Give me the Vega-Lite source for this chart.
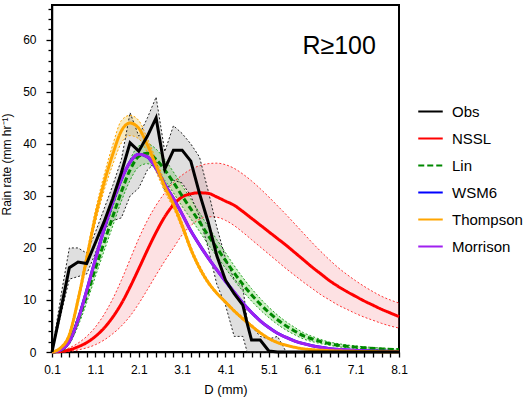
{
  "$schema": "https://vega.github.io/schema/vega-lite/v6.json",
  "autosize": "none",
  "width": 347,
  "height": 347,
  "padding": {"left": 52, "top": 5, "right": 133, "bottom": 45},
  "background": "white",
  "config": {
    "font": "Liberation Sans",
    "view": {"stroke": "#000", "strokeWidth": 2},
    "axis": {"grid": false, "domainColor": "#000", "domainWidth": 1.5, "tickColor": "#000", "tickWidth": 1.3, "labelColor": "#000", "titleColor": "#000", "labelFont": "Liberation Sans", "titleFont": "Liberation Sans", "titleFontWeight": "normal"},
    "legend": {"orient": "none", "legendX": 365, "legendY": 93, "symbolType": "stroke", "symbolSize": 600, "symbolStrokeWidth": 2, "labelFontSize": 15, "labelFont": "Liberation Sans", "labelColor": "#000", "labelOffset": 8, "rowPadding": 5, "padding": 0}
  },
  "datasets": {
    "obs": [
      {"m":"Obs","D":0.1,"R":0,"lo":0,"hi":0},
      {"m":"Obs","D":0.3,"R":8,"lo":7,"hi":10.5},
      {"m":"Obs","D":0.5,"R":16.2,"lo":14,"hi":20},
      {"m":"Obs","D":0.7,"R":17.3,"lo":14.5,"hi":20},
      {"m":"Obs","D":0.9,"R":17,"lo":15,"hi":19},
      {"m":"Obs","D":1.1,"R":21,"lo":19,"hi":23},
      {"m":"Obs","D":1.3,"R":25,"lo":23.5,"hi":27.5},
      {"m":"Obs","D":1.5,"R":29.5,"lo":25.2,"hi":32},
      {"m":"Obs","D":1.7,"R":34.5,"lo":25.8,"hi":37},
      {"m":"Obs","D":1.9,"R":40.2,"lo":30,"hi":46},
      {"m":"Obs","D":2.1,"R":38.6,"lo":31.5,"hi":41.5},
      {"m":"Obs","D":2.3,"R":41.5,"lo":35,"hi":45},
      {"m":"Obs","D":2.5,"R":45,"lo":36.5,"hi":49},
      {"m":"Obs","D":2.7,"R":35.2,"lo":31,"hi":38.5},
      {"m":"Obs","D":2.9,"R":38.8,"lo":33,"hi":43.5},
      {"m":"Obs","D":3.1,"R":38.8,"lo":32.5,"hi":42},
      {"m":"Obs","D":3.3,"R":36.7,"lo":30,"hi":40},
      {"m":"Obs","D":3.5,"R":30.5,"lo":26,"hi":37.5},
      {"m":"Obs","D":3.7,"R":25,"lo":20,"hi":31},
      {"m":"Obs","D":3.9,"R":18.5,"lo":13,"hi":24},
      {"m":"Obs","D":4.1,"R":13.8,"lo":9,"hi":18},
      {"m":"Obs","D":4.3,"R":11.2,"lo":3,"hi":14},
      {"m":"Obs","D":4.5,"R":9,"lo":3,"hi":12.5},
      {"m":"Obs","D":4.6,"R":5.5,"lo":0,"hi":6},
      {"m":"Obs","D":4.7,"R":2.3,"lo":0,"hi":5},
      {"m":"Obs","D":4.9,"R":2.3,"lo":0,"hi":3},
      {"m":"Obs","D":5.1,"R":0.2,"lo":0,"hi":2.5},
      {"m":"Obs","D":5.3,"R":0,"lo":0,"hi":3},
      {"m":"Obs","D":5.5,"R":0,"lo":0,"hi":0},
      {"m":"Obs","D":6.1,"R":0,"lo":0,"hi":0},
      {"m":"Obs","D":7.1,"R":0,"lo":0,"hi":0},
      {"m":"Obs","D":8.1,"R":0,"lo":0,"hi":0}
    ],
    "mod": [
      {"m":"NSSL","D":0.1,"R":0,"lo":0,"hi":0},
      {"m":"NSSL","D":0.3,"R":0.1,"lo":0,"hi":0.2},
      {"m":"NSSL","D":0.5,"R":0.4,"lo":0.1,"hi":0.8},
      {"m":"NSSL","D":0.7,"R":1,"lo":0.4,"hi":1.7},
      {"m":"NSSL","D":0.9,"R":1.8,"lo":0.8,"hi":3},
      {"m":"NSSL","D":1.1,"R":3,"lo":1.4,"hi":4.8},
      {"m":"NSSL","D":1.3,"R":4.6,"lo":2.3,"hi":7.2},
      {"m":"NSSL","D":1.5,"R":6.7,"lo":3.5,"hi":10.2},
      {"m":"NSSL","D":1.7,"R":9.3,"lo":5,"hi":13.8},
      {"m":"NSSL","D":1.9,"R":12.5,"lo":6.9,"hi":17.8},
      {"m":"NSSL","D":2.1,"R":16,"lo":9.3,"hi":21.8},
      {"m":"NSSL","D":2.3,"R":19.6,"lo":12,"hi":25.3},
      {"m":"NSSL","D":2.5,"R":23,"lo":14.8,"hi":28.2},
      {"m":"NSSL","D":2.7,"R":26,"lo":17.5,"hi":30.6},
      {"m":"NSSL","D":2.9,"R":28.3,"lo":20,"hi":32.6},
      {"m":"NSSL","D":3.1,"R":29.8,"lo":22.5,"hi":34},
      {"m":"NSSL","D":3.3,"R":30.4,"lo":24.3,"hi":35.1},
      {"m":"NSSL","D":3.5,"R":30.6,"lo":25.5,"hi":35.8},
      {"m":"NSSL","D":3.7,"R":30.5,"lo":26,"hi":36.2},
      {"m":"NSSL","D":3.9,"R":29.8,"lo":25.9,"hi":36.3},
      {"m":"NSSL","D":4.1,"R":29,"lo":25.3,"hi":36},
      {"m":"NSSL","D":4.3,"R":28.2,"lo":24.3,"hi":35.3},
      {"m":"NSSL","D":4.5,"R":27,"lo":23,"hi":34.2},
      {"m":"NSSL","D":4.7,"R":25.7,"lo":21.6,"hi":32.9},
      {"m":"NSSL","D":4.9,"R":24.4,"lo":20.2,"hi":31.4},
      {"m":"NSSL","D":5.1,"R":23.1,"lo":18.8,"hi":29.8},
      {"m":"NSSL","D":5.3,"R":21.8,"lo":17.4,"hi":28.1},
      {"m":"NSSL","D":5.5,"R":20.5,"lo":16,"hi":26.4},
      {"m":"NSSL","D":5.7,"R":19.1,"lo":14.7,"hi":24.6},
      {"m":"NSSL","D":5.9,"R":17.7,"lo":13.4,"hi":22.8},
      {"m":"NSSL","D":6.1,"R":16.3,"lo":12.2,"hi":21},
      {"m":"NSSL","D":6.3,"R":15,"lo":11,"hi":19.3},
      {"m":"NSSL","D":6.5,"R":13.7,"lo":10,"hi":17.7},
      {"m":"NSSL","D":6.7,"R":12.6,"lo":9,"hi":16.2},
      {"m":"NSSL","D":6.9,"R":11.6,"lo":8.2,"hi":14.9},
      {"m":"NSSL","D":7.1,"R":10.7,"lo":7.4,"hi":13.7},
      {"m":"NSSL","D":7.3,"R":9.8,"lo":6.7,"hi":12.6},
      {"m":"NSSL","D":7.5,"R":9,"lo":6.1,"hi":11.6},
      {"m":"NSSL","D":7.7,"R":8.2,"lo":5.5,"hi":10.7},
      {"m":"NSSL","D":7.9,"R":7.5,"lo":5,"hi":10},
      {"m":"NSSL","D":8.1,"R":6.8,"lo":4.6,"hi":9.4},

      {"m":"Lin","D":0.1,"R":0,"lo":0,"hi":0},
      {"m":"Lin","D":0.3,"R":0.3,"lo":0.2,"hi":0.5},
      {"m":"Lin","D":0.5,"R":2,"lo":1.5,"hi":2.6},
      {"m":"Lin","D":0.7,"R":6,"lo":5,"hi":7},
      {"m":"Lin","D":0.9,"R":10.8,"lo":9.5,"hi":12},
      {"m":"Lin","D":1.1,"R":16,"lo":14.5,"hi":17.5},
      {"m":"Lin","D":1.3,"R":21,"lo":19.4,"hi":22.8},
      {"m":"Lin","D":1.5,"R":26,"lo":24.2,"hi":27.8},
      {"m":"Lin","D":1.7,"R":30.8,"lo":29,"hi":32.7},
      {"m":"Lin","D":1.9,"R":35,"lo":33,"hi":37},
      {"m":"Lin","D":2.1,"R":37.6,"lo":35.6,"hi":39.6},
      {"m":"Lin","D":2.3,"R":38.2,"lo":36.2,"hi":40},
      {"m":"Lin","D":2.5,"R":37,"lo":35,"hi":39},
      {"m":"Lin","D":2.7,"R":35,"lo":33,"hi":37},
      {"m":"Lin","D":2.9,"R":32.6,"lo":30.6,"hi":34.6},
      {"m":"Lin","D":3.1,"R":30,"lo":28,"hi":32},
      {"m":"Lin","D":3.3,"R":27.5,"lo":25.6,"hi":29.4},
      {"m":"Lin","D":3.5,"R":25,"lo":23.2,"hi":26.8},
      {"m":"Lin","D":3.7,"R":22.4,"lo":20.7,"hi":24.1},
      {"m":"Lin","D":3.9,"R":20,"lo":18.4,"hi":21.6},
      {"m":"Lin","D":4.1,"R":17.6,"lo":16.1,"hi":19.1},
      {"m":"Lin","D":4.3,"R":15.2,"lo":13.8,"hi":16.6},
      {"m":"Lin","D":4.5,"R":13,"lo":11.7,"hi":14.3},
      {"m":"Lin","D":4.7,"R":11,"lo":9.8,"hi":12.2},
      {"m":"Lin","D":4.9,"R":9.2,"lo":8.1,"hi":10.3},
      {"m":"Lin","D":5.1,"R":7.6,"lo":6.6,"hi":8.6},
      {"m":"Lin","D":5.3,"R":6.2,"lo":5.3,"hi":7.1},
      {"m":"Lin","D":5.5,"R":5,"lo":4.2,"hi":5.8},
      {"m":"Lin","D":5.7,"R":4,"lo":3.3,"hi":4.7},
      {"m":"Lin","D":5.9,"R":3.1,"lo":2.5,"hi":3.7},
      {"m":"Lin","D":6.1,"R":2.5,"lo":2,"hi":3},
      {"m":"Lin","D":6.3,"R":2,"lo":1.6,"hi":2.4},
      {"m":"Lin","D":6.5,"R":1.6,"lo":1.3,"hi":1.9},
      {"m":"Lin","D":6.7,"R":1.3,"lo":1,"hi":1.6},
      {"m":"Lin","D":6.9,"R":1.1,"lo":0.85,"hi":1.35},
      {"m":"Lin","D":7.3,"R":0.8,"lo":0.6,"hi":1},
      {"m":"Lin","D":7.7,"R":0.6,"lo":0.45,"hi":0.75},
      {"m":"Lin","D":8.1,"R":0.45,"lo":0.35,"hi":0.6},

      {"m":"WSM6","D":0.1,"R":0},
      {"m":"WSM6","D":0.3,"R":0.4},
      {"m":"WSM6","D":0.5,"R":2},
      {"m":"WSM6","D":0.7,"R":6.2},
      {"m":"WSM6","D":0.9,"R":11.8},
      {"m":"WSM6","D":1.1,"R":17.8},
      {"m":"WSM6","D":1.3,"R":23.6},
      {"m":"WSM6","D":1.5,"R":28.8},
      {"m":"WSM6","D":1.7,"R":33.2},
      {"m":"WSM6","D":1.9,"R":36.5},
      {"m":"WSM6","D":2.1,"R":38},
      {"m":"WSM6","D":2.3,"R":37.5},
      {"m":"WSM6","D":2.5,"R":35.3},
      {"m":"WSM6","D":2.7,"R":32.2},
      {"m":"WSM6","D":2.9,"R":29.5},
      {"m":"WSM6","D":3.1,"R":26.5},
      {"m":"WSM6","D":3.3,"R":23.3},
      {"m":"WSM6","D":3.5,"R":20.6},
      {"m":"WSM6","D":3.7,"R":18.1},
      {"m":"WSM6","D":3.9,"R":15.8},
      {"m":"WSM6","D":4.1,"R":13.6},
      {"m":"WSM6","D":4.3,"R":11.5},
      {"m":"WSM6","D":4.5,"R":9.4},
      {"m":"WSM6","D":4.7,"R":7.6},
      {"m":"WSM6","D":4.9,"R":6},
      {"m":"WSM6","D":5.1,"R":4.7},
      {"m":"WSM6","D":5.3,"R":3.6},
      {"m":"WSM6","D":5.5,"R":2.8},
      {"m":"WSM6","D":5.7,"R":2.1},
      {"m":"WSM6","D":5.9,"R":1.6},
      {"m":"WSM6","D":6.1,"R":1.2},
      {"m":"WSM6","D":6.3,"R":0.9},
      {"m":"WSM6","D":6.5,"R":0.65},
      {"m":"WSM6","D":6.9,"R":0.4},
      {"m":"WSM6","D":7.3,"R":0.25},
      {"m":"WSM6","D":7.7,"R":0.15},
      {"m":"WSM6","D":8.1,"R":0.1},

      {"m":"Morrison","D":0.1,"R":0},
      {"m":"Morrison","D":0.3,"R":0.4},
      {"m":"Morrison","D":0.5,"R":2},
      {"m":"Morrison","D":0.7,"R":6.2},
      {"m":"Morrison","D":0.9,"R":11.8},
      {"m":"Morrison","D":1.1,"R":17.8},
      {"m":"Morrison","D":1.3,"R":23.6},
      {"m":"Morrison","D":1.5,"R":28.8},
      {"m":"Morrison","D":1.7,"R":33.2},
      {"m":"Morrison","D":1.9,"R":36.5},
      {"m":"Morrison","D":2.1,"R":38},
      {"m":"Morrison","D":2.3,"R":37.5},
      {"m":"Morrison","D":2.5,"R":35.3},
      {"m":"Morrison","D":2.7,"R":32.2},
      {"m":"Morrison","D":2.9,"R":29.5},
      {"m":"Morrison","D":3.1,"R":26.5},
      {"m":"Morrison","D":3.3,"R":23.3},
      {"m":"Morrison","D":3.5,"R":20.6},
      {"m":"Morrison","D":3.7,"R":18.1},
      {"m":"Morrison","D":3.9,"R":15.8},
      {"m":"Morrison","D":4.1,"R":13.6},
      {"m":"Morrison","D":4.3,"R":11.5},
      {"m":"Morrison","D":4.5,"R":9.4},
      {"m":"Morrison","D":4.7,"R":7.6},
      {"m":"Morrison","D":4.9,"R":6},
      {"m":"Morrison","D":5.1,"R":4.7},
      {"m":"Morrison","D":5.3,"R":3.6},
      {"m":"Morrison","D":5.5,"R":2.8},
      {"m":"Morrison","D":5.7,"R":2.1},
      {"m":"Morrison","D":5.9,"R":1.6},
      {"m":"Morrison","D":6.1,"R":1.2},
      {"m":"Morrison","D":6.3,"R":0.9},
      {"m":"Morrison","D":6.5,"R":0.65},
      {"m":"Morrison","D":6.9,"R":0.4},
      {"m":"Morrison","D":7.3,"R":0.25},
      {"m":"Morrison","D":7.7,"R":0.15},
      {"m":"Morrison","D":8.1,"R":0.1},

      {"m":"Thompson","D":0.1,"R":0,"lo":0,"hi":0},
      {"m":"Thompson","D":0.3,"R":0.8,"lo":0.6,"hi":1},
      {"m":"Thompson","D":0.5,"R":3.3,"lo":2.9,"hi":3.8},
      {"m":"Thompson","D":0.7,"R":10,"lo":9.2,"hi":10.8},
      {"m":"Thompson","D":0.9,"R":18,"lo":17,"hi":19},
      {"m":"Thompson","D":1.1,"R":26,"lo":24.8,"hi":27.2},
      {"m":"Thompson","D":1.3,"R":32.5,"lo":31,"hi":34},
      {"m":"Thompson","D":1.5,"R":38,"lo":36,"hi":39.8},
      {"m":"Thompson","D":1.7,"R":42.5,"lo":40.2,"hi":44.5},
      {"m":"Thompson","D":1.9,"R":44,"lo":41.6,"hi":45.5},
      {"m":"Thompson","D":2.1,"R":43,"lo":41,"hi":44.5},
      {"m":"Thompson","D":2.3,"R":39.8,"lo":38.3,"hi":41},
      {"m":"Thompson","D":2.5,"R":35.8,"lo":34.6,"hi":37},
      {"m":"Thompson","D":2.7,"R":31.8,"lo":30.8,"hi":32.8},
      {"m":"Thompson","D":2.9,"R":28.4,"lo":27.6,"hi":29.2},
      {"m":"Thompson","D":3.1,"R":24.3,"lo":23.6,"hi":25},
      {"m":"Thompson","D":3.3,"R":19.8,"lo":19.2,"hi":20.4},
      {"m":"Thompson","D":3.5,"R":16.2,"lo":15.7,"hi":16.7},
      {"m":"Thompson","D":3.7,"R":13.4,"lo":13,"hi":13.8},
      {"m":"Thompson","D":3.9,"R":11.3,"lo":11,"hi":11.6},
      {"m":"Thompson","D":4.1,"R":9.6,"lo":9.3,"hi":9.9},
      {"m":"Thompson","D":4.3,"R":7.9,"lo":7.6,"hi":8.2},
      {"m":"Thompson","D":4.5,"R":6.4,"lo":6.1,"hi":6.7},
      {"m":"Thompson","D":4.7,"R":5,"lo":4.8,"hi":5.3},
      {"m":"Thompson","D":4.9,"R":3.7,"lo":3.5,"hi":3.9},
      {"m":"Thompson","D":5.1,"R":2.6,"lo":2.4,"hi":2.8},
      {"m":"Thompson","D":5.3,"R":1.8,"lo":1.7,"hi":2},
      {"m":"Thompson","D":5.5,"R":1.3,"lo":1.2,"hi":1.4},
      {"m":"Thompson","D":5.7,"R":0.9,"lo":0.8,"hi":1},
      {"m":"Thompson","D":5.9,"R":0.6,"lo":0.55,"hi":0.7},
      {"m":"Thompson","D":6.1,"R":0.45,"lo":0.4,"hi":0.5},
      {"m":"Thompson","D":6.5,"R":0.25,"lo":0.2,"hi":0.3},
      {"m":"Thompson","D":6.9,"R":0.15,"lo":0.1,"hi":0.2},
      {"m":"Thompson","D":7.5,"R":0.08,"lo":0.05,"hi":0.1},
      {"m":"Thompson","D":8.1,"R":0.04,"lo":0.02,"hi":0.06}
    ],
    "lab": [{"D": 6.72, "R": 57.3, "t": "R≥100"}]
  },
  "encoding": {
    "x": {"field": "D", "type": "quantitative",
      "scale": {"domain": [0.1, 8.1], "nice": false, "zero": false},
      "axis": {
        "values": [0.1,0.3,0.5,0.7,0.9,1.1,1.3,1.5,1.7,1.9,2.1,2.3,2.5,2.7,2.9,3.1,3.3,3.5,3.7,3.9,4.1,4.3,4.5,4.7,4.9,5.1,5.3,5.5,5.7,5.9,6.1,6.3,6.5,6.7,6.9,7.1,7.3,7.5,7.7,7.9,8.1],
        "labelExpr": "round(datum.value*10)%10==1 ? format(datum.value, '.1f') : ''",
        "tickSize": 5, "labelPadding": 7, "labelFontSize": 12, "labelOverlap": false, "labelFlush": false,
        "title": "D (mm)", "titleFontSize": 13, "titlePadding": 8
      }
    }
  },
  "layer": [
    {
      "data": {"name": "mod"},
      "transform": [{"filter": "isValid(datum.lo)"}],
      "mark": {"type": "area", "interpolate": "monotone", "fillOpacity": 0.25},
      "encoding": {
        "y": {"field": "lo", "type": "quantitative",
          "scale": {"domain": [0, 66.7], "nice": false, "zero": false},
          "axis": {
            "values": [0,2,4,6,8,10,12,14,16,18,20,22,24,26,28,30,32,34,36,38,40,42,44,46,48,50,52,54,56,58,60,62,64,66],
            "labelExpr": "datum.value % 10 == 0 ? datum.label : ''",
            "tickSize": {"condition": {"test": "datum.value % 10 == 0", "value": 6}, "value": 4},
            "labelPadding": 10, "labelFontSize": 12, "labelOverlap": false,
            "title": "Rain rate (mm hr⁻¹)", "titleFontSize": 12, "titleY": 159, "titlePadding": 9
          }
        },
        "y2": {"field": "hi"},
        "fill": {"field": "m", "type": "nominal",
          "scale": {"domain": ["Obs", "NSSL", "Lin", "Thompson"], "range": ["#808080", "#f7878f", "#37c317", "#e3ab00"]},
          "legend": null}
      }
    },
    {
      "data": {"name": "obs"},
      "mark": {"type": "area", "interpolate": "linear", "fillOpacity": 0.25},
      "encoding": {
        "y": {"field": "lo", "type": "quantitative",
          "axis": {
            "values": [0,2,4,6,8,10,12,14,16,18,20,22,24,26,28,30,32,34,36,38,40,42,44,46,48,50,52,54,56,58,60,62,64,66],
            "labelExpr": "datum.value % 10 == 0 ? datum.label : ''",
            "tickSize": {"condition": {"test": "datum.value % 10 == 0", "value": 6}, "value": 4},
            "labelPadding": 10, "labelFontSize": 12, "labelOverlap": false,
            "title": "Rain rate (mm hr⁻¹)", "titleFontSize": 12, "titleY": 159, "titlePadding": 9
          }},
        "y2": {"field": "hi"},
        "fill": {"field": "m", "type": "nominal", "legend": null}
      }
    },
    {
      "data": {"name": "mod"},
      "transform": [{"filter": "isValid(datum.lo)"}, {"fold": ["lo", "hi"], "as": ["bound", "v"]}],
      "mark": {"type": "line", "interpolate": "monotone", "strokeWidth": 1, "strokeDash": [2, 2]},
      "encoding": {
        "y": {"field": "v", "type": "quantitative",
          "axis": {
            "values": [0,2,4,6,8,10,12,14,16,18,20,22,24,26,28,30,32,34,36,38,40,42,44,46,48,50,52,54,56,58,60,62,64,66],
            "labelExpr": "datum.value % 10 == 0 ? datum.label : ''",
            "tickSize": {"condition": {"test": "datum.value % 10 == 0", "value": 6}, "value": 4},
            "labelPadding": 10, "labelFontSize": 12, "labelOverlap": false,
            "title": "Rain rate (mm hr⁻¹)", "titleFontSize": 12, "titleY": 159, "titlePadding": 9
          }},
        "detail": {"field": "bound"},
        "stroke": {"field": "m", "type": "nominal",
          "scale": {"domain": ["Obs", "NSSL", "Lin", "Thompson"], "range": ["#222222", "#ff3333", "#22a022", "#ffa500"]},
          "legend": null}
      }
    },
    {
      "data": {"name": "obs"},
      "transform": [{"fold": ["lo", "hi"], "as": ["bound", "v"]}],
      "mark": {"type": "line", "interpolate": "linear", "strokeWidth": 1, "strokeDash": [2, 2]},
      "encoding": {
        "y": {"field": "v", "type": "quantitative",
          "axis": {
            "values": [0,2,4,6,8,10,12,14,16,18,20,22,24,26,28,30,32,34,36,38,40,42,44,46,48,50,52,54,56,58,60,62,64,66],
            "labelExpr": "datum.value % 10 == 0 ? datum.label : ''",
            "tickSize": {"condition": {"test": "datum.value % 10 == 0", "value": 6}, "value": 4},
            "labelPadding": 10, "labelFontSize": 12, "labelOverlap": false,
            "title": "Rain rate (mm hr⁻¹)", "titleFontSize": 12, "titleY": 159, "titlePadding": 9
          }},
        "detail": {"field": "bound"},
        "stroke": {"field": "m", "type": "nominal", "legend": null}
      }
    },
    {
      "data": {"name": "mod"},
      "transform": [{"filter": "datum.m == 'WSM6'"}],
      "mark": {"type": "line", "interpolate": "monotone", "strokeWidth": 3},
      "encoding": {
        "y": {"field": "R", "type": "quantitative",
          "axis": {
            "values": [0,2,4,6,8,10,12,14,16,18,20,22,24,26,28,30,32,34,36,38,40,42,44,46,48,50,52,54,56,58,60,62,64,66],
            "labelExpr": "datum.value % 10 == 0 ? datum.label : ''",
            "tickSize": {"condition": {"test": "datum.value % 10 == 0", "value": 6}, "value": 4},
            "labelPadding": 10, "labelFontSize": 12, "labelOverlap": false,
            "title": "Rain rate (mm hr⁻¹)", "titleFontSize": 12, "titleY": 159, "titlePadding": 9
          }},
        "color": {"field": "m", "type": "nominal",
          "scale": {"domain": ["Obs", "NSSL", "Lin", "WSM6", "Thompson", "Morrison"], "range": ["#000000", "#ff0000", "#008800", "#0000ff", "#ffa500", "#a020f0"]},
          "legend": {"title": null}}
      }
    },
    {
      "data": {"name": "mod"},
      "transform": [{"filter": "datum.m != 'WSM6'"}],
      "mark": {"type": "line", "interpolate": "monotone", "strokeWidth": 3},
      "encoding": {
        "y": {"field": "R", "type": "quantitative",
          "axis": {
            "values": [0,2,4,6,8,10,12,14,16,18,20,22,24,26,28,30,32,34,36,38,40,42,44,46,48,50,52,54,56,58,60,62,64,66],
            "labelExpr": "datum.value % 10 == 0 ? datum.label : ''",
            "tickSize": {"condition": {"test": "datum.value % 10 == 0", "value": 6}, "value": 4},
            "labelPadding": 10, "labelFontSize": 12, "labelOverlap": false,
            "title": "Rain rate (mm hr⁻¹)", "titleFontSize": 12, "titleY": 159, "titlePadding": 9
          }},
        "color": {"field": "m", "type": "nominal", "legend": {"title": null}},
        "strokeDash": {"field": "m", "type": "nominal",
          "scale": {"domain": ["Obs", "NSSL", "Lin", "WSM6", "Thompson", "Morrison"], "range": [[1, 0], [1, 0], [6, 3], [1, 0], [1, 0], [1, 0]]},
          "legend": {"title": null}},
        "strokeWidth": {"condition": {"test": "datum.m == 'Lin'", "value": 4.5}, "value": 3}
      }
    },
    {
      "data": {"name": "obs"},
      "mark": {"type": "line", "interpolate": "linear", "strokeWidth": 3},
      "encoding": {
        "y": {"field": "R", "type": "quantitative",
          "axis": {
            "values": [0,2,4,6,8,10,12,14,16,18,20,22,24,26,28,30,32,34,36,38,40,42,44,46,48,50,52,54,56,58,60,62,64,66],
            "labelExpr": "datum.value % 10 == 0 ? datum.label : ''",
            "tickSize": {"condition": {"test": "datum.value % 10 == 0", "value": 6}, "value": 4},
            "labelPadding": 10, "labelFontSize": 12, "labelOverlap": false,
            "title": "Rain rate (mm hr⁻¹)", "titleFontSize": 12, "titleY": 159, "titlePadding": 9
          }},
        "color": {"field": "m", "type": "nominal", "legend": {"title": null}}
      }
    },
    {
      "data": {"name": "lab"},
      "mark": {"type": "text", "fontSize": 25, "font": "Liberation Sans", "align": "center", "baseline": "alphabetic", "color": "#000"},
      "encoding": {
        "y": {"field": "R", "type": "quantitative",
          "axis": {
            "values": [0,2,4,6,8,10,12,14,16,18,20,22,24,26,28,30,32,34,36,38,40,42,44,46,48,50,52,54,56,58,60,62,64,66],
            "labelExpr": "datum.value % 10 == 0 ? datum.label : ''",
            "tickSize": {"condition": {"test": "datum.value % 10 == 0", "value": 6}, "value": 4},
            "labelPadding": 10, "labelFontSize": 12, "labelOverlap": false,
            "title": "Rain rate (mm hr⁻¹)", "titleFontSize": 12, "titleY": 159, "titlePadding": 9
          }},
        "text": {"field": "t"}
      }
    }
  ]
}
